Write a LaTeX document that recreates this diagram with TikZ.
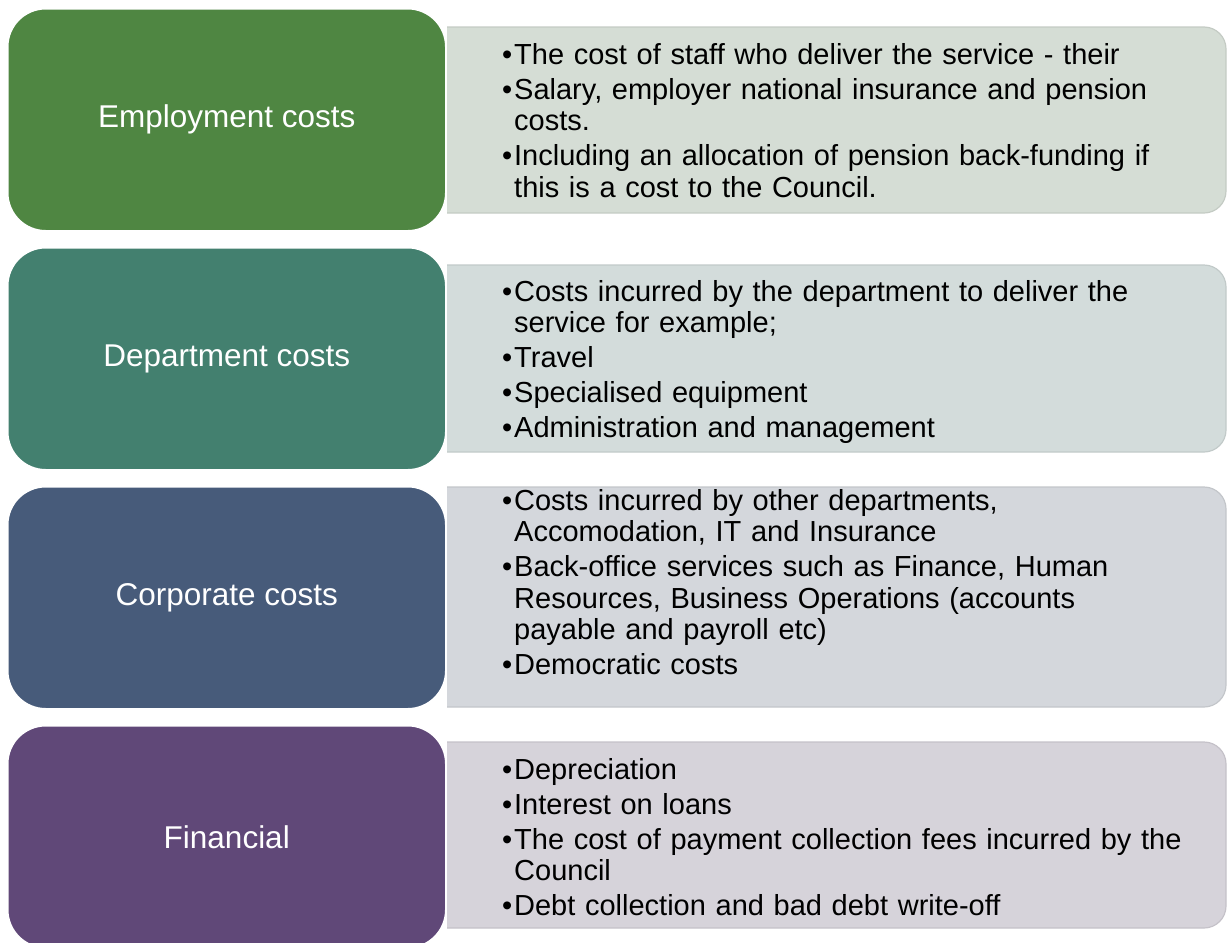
\documentclass[tikz,border=0pt]{standalone}
\usepackage{fontspec}
\setmainfont{Liberation Sans}
\usepackage{xcolor}
\usepackage{tikz}
\usetikzlibrary{positioning,calc}

\definecolor{empgreen}{HTML}{4F8642}
\definecolor{deptteal}{HTML}{43806F}
\definecolor{corpblue}{HTML}{475B7A}
\definecolor{finpurple}{HTML}{604878}
\definecolor{empback}{HTML}{D5DDD5}
\definecolor{deptback}{HTML}{D3DCDB}
\definecolor{corpback}{HTML}{D4D7DC}
\definecolor{finback}{HTML}{D6D3DA}

% one bullet point with a hanging indent
\newcommand{\bul}[1]{\hangindent=12pt\hangafter=1\noindent\makebox[12pt][l]{•}#1\par}

\tikzset{
    catbox/.style={rounded corners=38pt, draw=white, line width=1.5pt, text=white,
        font=\fontsize{31.5}{36}\selectfont, minimum width=438pt, minimum height=222pt,
        anchor=north west, inner sep=0pt},
    itemlist/.style={anchor=west, inner sep=0pt, text width=715pt, align=left,
        font=\fontsize{29}{31.5}\selectfont,
        execute at begin node={\setlength{\parskip}{3.5pt}}},
    backpanel/.style={rounded corners=22pt, line width=1.2pt}
}

\begin{document}
\begin{tikzpicture}[x=1pt, y=-1pt]
    \path[use as bounding box] (0,0) rectangle (1227,943);
    \clip (0,0) rectangle (1227,943);

    % panels behind the bullet lists
    \path[backpanel, fill=empback, draw=empback!92!black] (447,27) -- (1226,27) -- (1226,213) -- (447,213);
    \path[backpanel, fill=deptback, draw=deptback!92!black] (447,265) -- (1226,265) -- (1226,452) -- (447,452);
    \path[backpanel, fill=corpback, draw=corpback!92!black] (447,487) -- (1226,487) -- (1226,707) -- (447,707);
    \path[backpanel, fill=finback, draw=finback!92!black] (447,742) -- (1226,742) -- (1226,928) -- (447,928);

    % cost categories
    \node[catbox, fill=empgreen] (emp) at (7,8) {Employment costs};
    \node[catbox, fill=deptteal] (dept) at (7,247) {Department costs};
    \node[catbox, fill=corpblue] (corp) at (7,486) {Corporate costs};
    \node[catbox, fill=finpurple] (fin) at (7,725) {Financial};

    % what each category covers
    \node[itemlist] (emp-items) at (502,120.5) {%
        \bul{The cost of staff who deliver the service - their}
        \bul{Salary, employer national insurance and pension\newline costs.}
        \bul{Including an allocation of pension back-funding if\newline this is a cost to the Council.}};
    \node[itemlist] (dept-items) at (502,362) {%
        \bul{Costs incurred by the department to deliver the\newline service for example;}
        \bul{Travel}
        \bul{Specialised equipment}
        \bul{Administration and management}};
    \node[itemlist] (corp-items) at (502,582) {%
        \bul{Costs incurred by other departments,\newline Accomodation, IT and Insurance}
        \bul{Back-office services such as Finance, Human\newline Resources, Business Operations (accounts\newline payable and payroll etc)}
        \bul{Democratic costs}};
    \node[itemlist] (fin-items) at (502,837) {%
        \bul{Depreciation}
        \bul{Interest on loans}
        \bul{The cost of payment collection fees incurred by the\newline Council}
        \bul{Debt collection and bad debt write-off}};
\end{tikzpicture}
\end{document}
